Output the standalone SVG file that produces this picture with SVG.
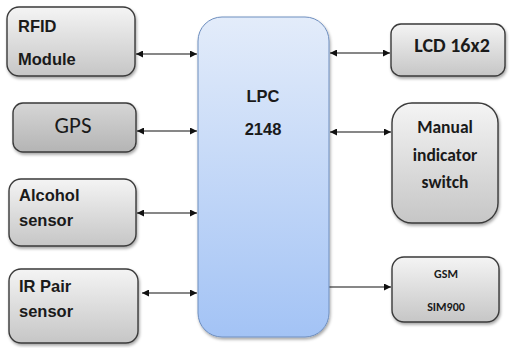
<svg xmlns="http://www.w3.org/2000/svg" width="510" height="348" viewBox="0 0 510 348">
<style>
.box{fill:url(#gray);stroke:#3a3a3a;stroke-width:1.4;filter:url(#sh)}
.gps{fill:url(#gray2);stroke:#3a3a3a;stroke-width:1.4;filter:url(#sh)}
.lpc{fill:url(#blue);stroke:#6f8fbf;stroke-width:1;filter:url(#sh)}
.a{font-family:"Liberation Sans",Arial,sans-serif;font-weight:bold;font-size:16.5px;fill:#1a1a1a}
.c{font-family:Carlito,"Open Sans","Liberation Sans",sans-serif;font-weight:bold;fill:#1a1a1a;text-anchor:middle}
.con{stroke:#111;stroke-width:1.2;fill:none}
</style>
<defs>
<linearGradient id="gray" x1="0" y1="0" x2="0" y2="1"><stop offset="0" stop-color="#f4f4f4"/><stop offset="1" stop-color="#c6c6c6"/></linearGradient>
<linearGradient id="gray2" x1="0" y1="0" x2="0" y2="1"><stop offset="0" stop-color="#d6d6d6"/><stop offset="1" stop-color="#b4b4b4"/></linearGradient>
<linearGradient id="blue" x1="0" y1="0" x2="0" y2="1"><stop offset="0" stop-color="#e3ecfa"/><stop offset="1" stop-color="#a3c3f5"/></linearGradient>
<filter id="sh" x="-10%" y="-10%" width="125%" height="125%"><feDropShadow dx="1" dy="2" stdDeviation="1.5" flood-color="#000" flood-opacity="0.35"/></filter>
<marker id="ah" viewBox="0 0 10 10" refX="10" refY="5" markerWidth="7" markerHeight="7" markerUnits="userSpaceOnUse" orient="auto-start-reverse"><path d="M0,0 L10,5 L0,10 z" fill="#111"/></marker>
</defs>
<g id="connectors">
<line class="con" x1="136" y1="54" x2="197" y2="54" marker-start="url(#ah)" marker-end="url(#ah)"/>
<line class="con" x1="137" y1="131" x2="197" y2="131" marker-start="url(#ah)" marker-end="url(#ah)"/>
<line class="con" x1="137" y1="213" x2="197" y2="213" marker-start="url(#ah)" marker-end="url(#ah)"/>
<line class="con" x1="142" y1="293" x2="197" y2="293" marker-start="url(#ah)" marker-end="url(#ah)"/>
<line class="con" x1="330" y1="53" x2="390" y2="53" marker-start="url(#ah)" marker-end="url(#ah)"/>
<line class="con" x1="330" y1="132" x2="391" y2="132" marker-start="url(#ah)" marker-end="url(#ah)"/>
<line class="con" x1="329" y1="287" x2="391" y2="287" marker-end="url(#ah)"/>
</g>
<g id="rfid"><rect class="box" x="7" y="7" width="128" height="69" rx="12"/><text class="a" x="18" y="32">RFID</text><text class="a" x="18" y="65">Module</text></g>
<g id="gps"><rect class="gps" x="13" y="103" width="123" height="49" rx="10"/><text x="73" y="133" text-anchor="middle" style="font-family:Carlito,'Open Sans','Liberation Sans',sans-serif;font-size:23px;fill:#1a1a1a">GPS</text></g>
<g id="alcohol"><rect class="box" x="9" y="179" width="127" height="67" rx="12"/><text class="a" x="19" y="201">Alcohol</text><text class="a" x="19" y="226">sensor</text></g>
<g id="irpair"><rect class="box" x="9" y="269" width="129" height="74" rx="12"/><text class="a" x="19" y="292">IR Pair</text><text class="a" x="19" y="317">sensor</text></g>
<g id="lpc"><rect class="lpc" x="198" y="17" width="131" height="320" rx="24"/><text class="a" x="263" y="102" text-anchor="middle" font-size="17">LPC</text><text class="a" x="263" y="135" text-anchor="middle">2148</text></g>
<g id="lcd"><rect class="box" x="391" y="24" width="114" height="52" rx="10"/><text class="c" x="452" y="52" font-size="20">LCD 16x2</text></g>
<g id="manual"><rect class="box" x="392" y="103" width="106" height="120" rx="20"/><text class="c" x="445" y="133" font-size="17.5">Manual</text><text class="c" x="445" y="161" font-size="17.5">indicator</text><text class="c" x="445" y="188" font-size="17.5">switch</text></g>
<g id="gsm"><rect class="box" x="392" y="257" width="107" height="65" rx="12"/><text class="c" x="446" y="278" font-size="12">GSM</text><text class="c" x="446" y="311" font-size="12">SIM900</text></g>
</svg>
